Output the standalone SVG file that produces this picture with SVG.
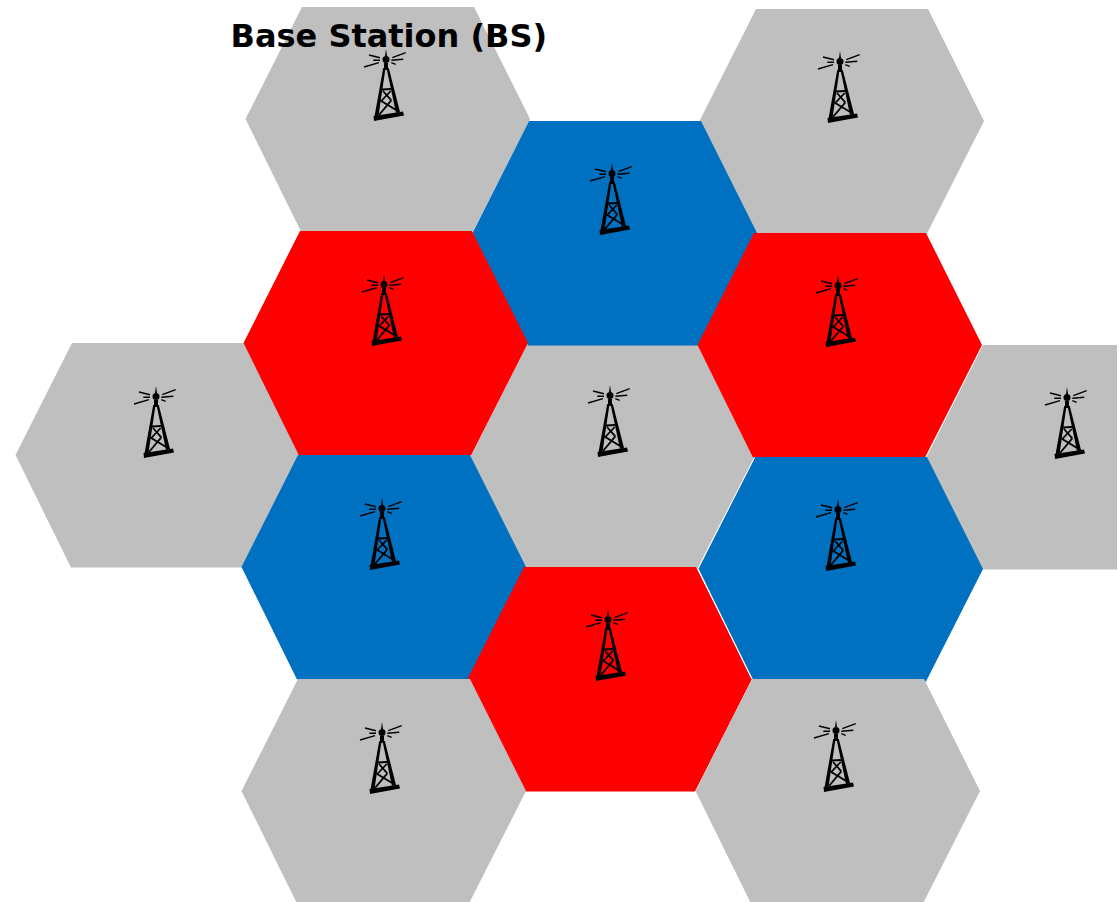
<svg xmlns="http://www.w3.org/2000/svg" width="1119" height="902" viewBox="0 0 1119 902">
<style>
.g{fill:#bfbfbf}.b{fill:#0070c0}.r{fill:#ff0000}
.seam{fill:none;stroke:#fff;stroke-width:1}
.t{font-family:"DejaVu Sans",sans-serif;font-weight:700;font-size:32px;fill:#000}
.ray{fill:none;stroke:#000;stroke-width:1.4}
.br{fill:none;stroke:#000;stroke-width:1.8}
</style>
<defs>
<polygon id="hex" points="0.500,112 57,0 229,0 285,112 228,224.500 56,224.500"/>
<g id="tower">
<path class="ray" d="M-17 5L-6 7.700M-22 17L-7 12.700M-12.700 10.300L-6 10.300M6.300 7.700L19.700 2.700M5.300 10.300L17.300 9.300M5.300 12.700L9.700 14.300"/>
<path d="M0 -1L1 6L-1 6Z" fill="#000"/>
<circle cx="0" cy="9.500" r="3.500" fill="#000"/>
<path d="M-2 13h4v7h-4z" fill="#000"/>
<path d="M-2.800 18L-0.500 18L-7.500 66L-11.500 66.500ZM0.500 18L2.800 18L14 62L10 63Z" fill="#000"/>
<path class="br" d="M-4 39.500L5 39M-3 41L5.300 50.300M4.700 41L-4.700 51L13 61.700M5.300 50.300L-7 65"/>
<path d="M-12.500 66L-12 71L18 65.500L17 61.500Z" fill="#000"/>
</g>
</defs>
<g id="connectors"/>
<g id="hex-g1"><use href="#hex" class="g" x="245" y="7"/></g>
<g id="hex-g2"><use href="#hex" class="g" x="699" y="9"/></g>
<g id="hex-g3"><use href="#hex" class="g" x="15" y="343"/></g>
<g id="hex-g4"><use href="#hex" class="g" x="470" y="345"/></g>
<g id="hex-g5"><use href="#hex" class="g" x="926" y="345"/></g>
<g id="hex-b1"><use href="#hex" class="b" x="472" y="121"/></g>
<g id="hex-r1"><use href="#hex" class="r" x="243" y="231"/></g>
<g id="hex-r2"><use href="#hex" class="r" x="697" y="233"/></g>
<g id="hex-b2"><use href="#hex" class="b" x="241" y="455"/></g>
<g id="hex-b3"><use href="#hex" class="b" x="698" y="457"/></g>
<g id="hex-r3"><use href="#hex" class="r" x="467" y="567"/></g>
<g id="hex-g6"><use href="#hex" class="g" x="241" y="679"/></g>
<g id="hex-g7"><use href="#hex" class="g" x="695" y="679"/></g>
<rect x="1117" y="0" width="2" height="902" fill="#fff"/>
<path class="seam" d="M754.500 457.500L697.800 568.500L751.500 678.500"/>
<g id="towers">
<use href="#tower" x="386" y="50"/>
<use href="#tower" x="840" y="52"/>
<use href="#tower" x="612" y="164"/>
<use href="#tower" x="384" y="275"/>
<use href="#tower" x="838" y="276"/>
<use href="#tower" x="156" y="387"/>
<use href="#tower" x="610" y="386"/>
<use href="#tower" x="1067" y="388"/>
<use href="#tower" x="382" y="499"/>
<use href="#tower" x="838" y="500"/>
<use href="#tower" x="608" y="610"/>
<use href="#tower" x="382" y="723"/>
<use href="#tower" x="836" y="721"/>
</g>
<text class="t" x="230.500" y="46.500">Base Station (BS)</text>
</svg>
